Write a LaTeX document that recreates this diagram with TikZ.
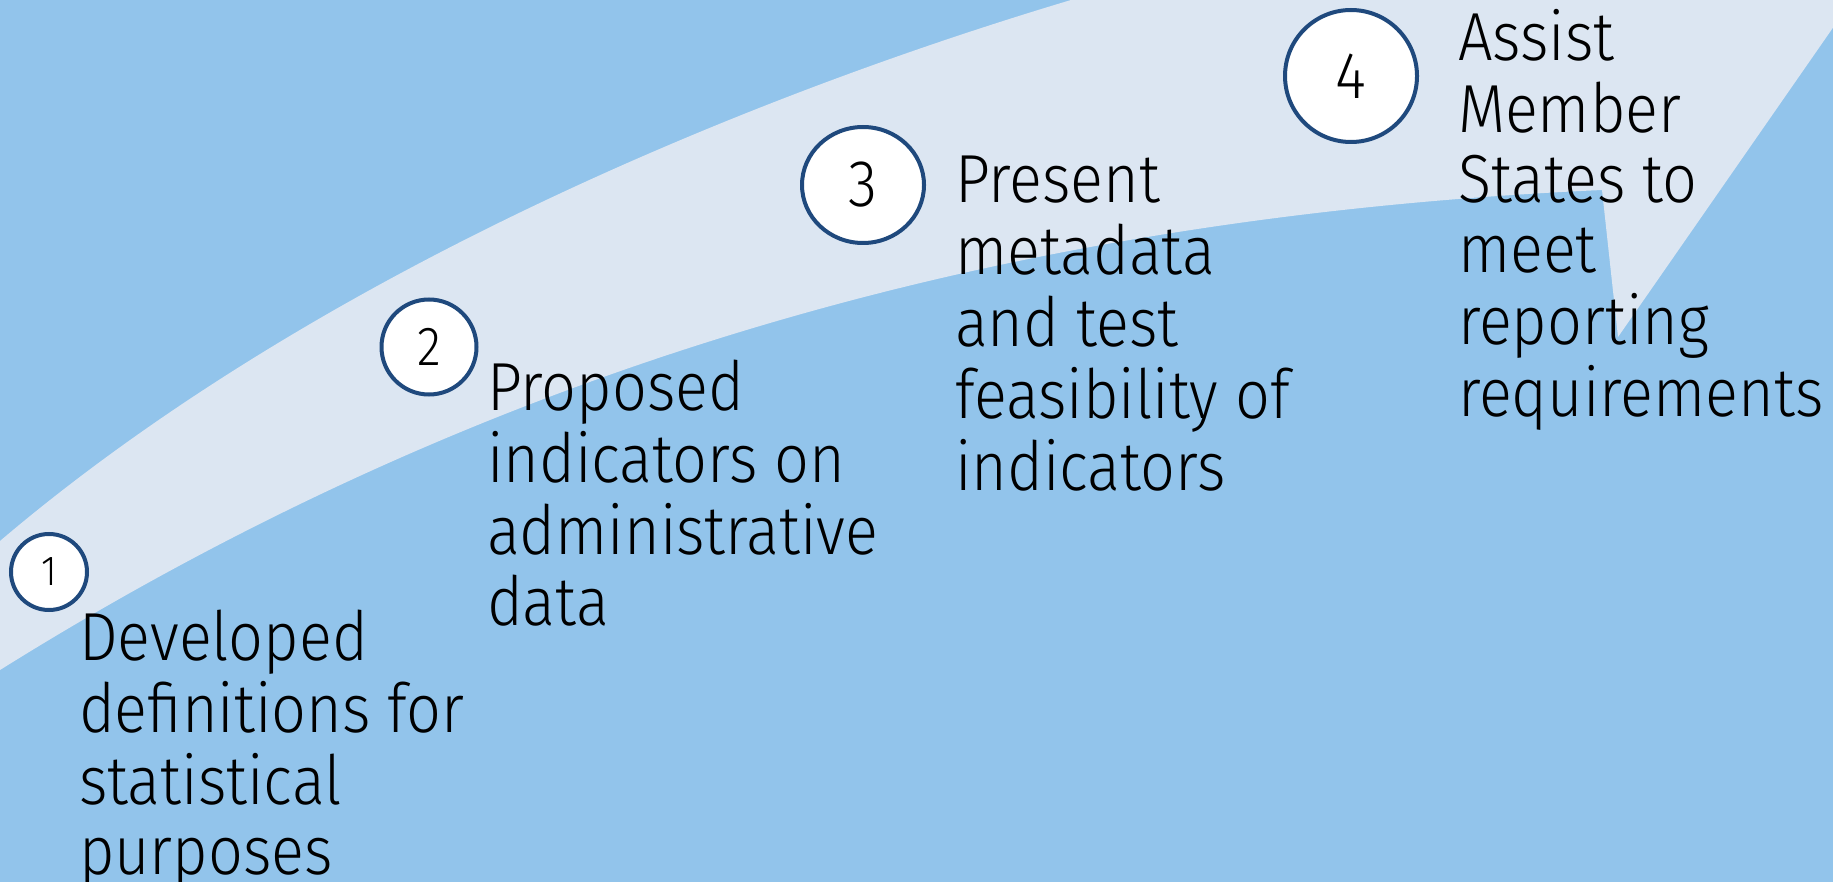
\documentclass[tikz,border=0pt]{standalone}
\usepackage{fontspec}
\setmainfont{Fira Sans Light}[FakeStretch=0.9]
\usetikzlibrary{shapes}
\definecolor{skyblue}{RGB}{146,196,235}
\definecolor{paleblue}{RGB}{220,230,242}
\definecolor{darkblue}{RGB}{31,73,125}

\begin{document}
\begin{tikzpicture}[x=1pt,y=-1pt]

\tikzstyle{num-circle} = [draw=darkblue, line width=4, fill=white, circle, inner sep=0, text=black]
\tikzstyle{num-oval} = [num-circle, ellipse]
\tikzstyle{step-text} = [anchor=base west, inner sep=0, outer sep=0, text=black,
font=\fontsize{68}{70}\selectfont]

\useasboundingbox (0,0) rectangle (1833,882);
\fill[skyblue] (0,0) rectangle (1833,882);

\begin{scope}
\clip (0,0) rectangle (1833,882);
\fill[paleblue] (0,541) .. controls (300,286) and (720,105) .. (1071,0)
 -- (1071,-40) -- (1880,-40) -- (1618,337) -- (1602,190)
 .. controls (1050,215) and (520,345) .. (0,670)
 -- cycle;
\end{scope}


\node [num-circle, minimum size=76, font=\fontsize{42}{42}\selectfont] (c1) at (49,572) {1};
\node [num-circle, minimum size=95, font=\fontsize{55}{55}\selectfont] (c2) at (429,347) {2};
\node [num-oval, minimum width=122, minimum height=116, font=\fontsize{66}{66}\selectfont] (c3) at (863,185) {3};
\node [num-circle, minimum size=132, font=\fontsize{66}{66}\selectfont] (c4) at (1351,76) {4};



\node [step-text] (t1) at (79,660) {\begin{tabular}[t]{@{}l@{}} Developed\\ definitions for\\ statistical\\ purposes\end{tabular}};

\node [step-text] (t2) at (487,410) {\begin{tabular}[t]{@{}l@{}} Proposed\\ indicators on\\ administrative\\ data\end{tabular}};

\node [step-text] (t3) at (955,203) {\begin{tabular}[t]{@{}l@{}} Present\\ metadata\\ and test\\ feasibility of\\ indicators\end{tabular}};

\node [step-text] (t4) at (1458,61) {\begin{tabular}[t]{@{}l@{}} Assist\\ Member\\ States to\\ meet\\ reporting\\ requirements\end{tabular}};

\end{tikzpicture}
\end{document}
